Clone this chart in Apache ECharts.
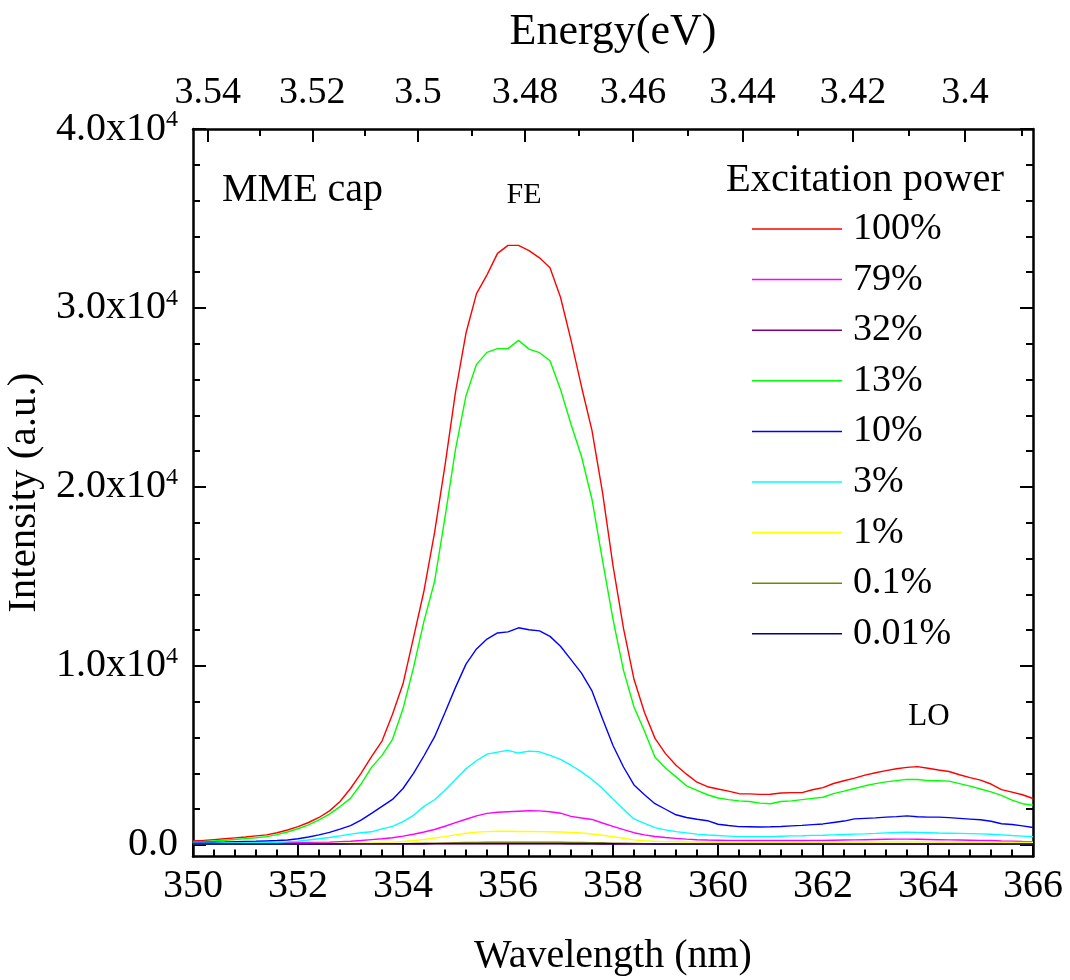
<!DOCTYPE html>
<html><head><meta charset="utf-8">
<script src="https://cdn.jsdelivr.net/npm/echarts@6/dist/echarts.min.js"></script>
<style>html,body{margin:0;padding:0;background:#fff}#c{width:1070px;height:980px}</style>
</head><body><div id="c"></div>
<script>
// Wavelength grid (nm)
const wavelength = [
350.0,350.2,350.4,350.6,350.8,351.0,351.2,351.4,351.6,351.8,
352.0,352.2,352.4,352.6,352.8,353.0,353.2,353.4,353.6,353.8,
354.0,354.2,354.4,354.6,354.8,355.0,355.2,355.4,355.6,355.8,
356.0,356.2,356.4,356.6,356.8,357.0,357.2,357.4,357.6,357.8,
358.0,358.2,358.4,358.6,358.8,359.0,359.2,359.4,359.6,359.8,
360.0,360.2,360.4,360.6,360.8,361.0,361.2,361.4,361.6,361.8,
362.0,362.2,362.4,362.6,362.8,363.0,363.2,363.4,363.6,363.8,
364.0,364.2,364.4,364.6,364.8,365.0,365.2,365.4,365.6,365.8,366.0];

const p100 = [
220,240,290,340,390,440,500,560,680,830,
1020,1250,1530,1900,2420,3150,4000,4930,5800,7300,
9000,11580,14200,17430,21200,25300,28600,30800,31850,33050,
33500,33500,33200,32800,32250,30600,28200,25600,23150,19700,
15600,12100,9250,7400,5950,5100,4450,3950,3500,3250,
3120,3000,2860,2850,2820,2830,2900,2920,2920,3080,
3200,3430,3580,3730,3900,4030,4150,4250,4330,4370,
4280,4180,4100,3920,3760,3620,3400,3090,2950,2800,2590];

const p79 = [
90,90,95,95,100,100,105,110,115,120,
125,130,130,150,180,200,240,290,340,400,
490,590,720,860,1040,1240,1430,1620,1760,1820,
1850,1880,1910,1900,1850,1770,1590,1500,1420,1220,
1030,850,680,560,470,410,360,320,290,270,
260,250,250,240,240,240,240,240,240,250,
250,260,270,280,290,300,310,320,320,310,
300,290,280,270,260,250,240,220,210,190,180];

const p32 = [
30,30,30,30,30,30,30,30,30,30,
30,30,30,35,35,35,40,40,40,45,
45,50,50,55,55,60,60,60,65,65,
65,65,65,65,60,60,60,55,55,50,
45,45,40,40,35,35,35,30,30,30,
30,30,30,30,30,30,30,30,30,30,
30,30,30,30,30,35,35,35,35,35,
35,35,35,30,30,30,30,30,30,30,30];

const p13 = [
170,190,220,260,300,350,400,460,570,720,
900,1120,1400,1720,2140,2600,3400,4330,5000,5900,
7600,9900,12500,14700,18300,22100,25100,26850,27520,27730,
27730,28190,27700,27500,27050,25450,23500,21700,19300,15900,
12600,9750,7700,6350,4900,4300,3800,3300,3050,2800,
2620,2530,2460,2420,2330,2300,2420,2460,2530,2600,
2660,2860,3000,3150,3300,3420,3520,3590,3660,3650,
3590,3580,3560,3420,3280,3120,2960,2770,2500,2300,2220];

const p10 = [
130,140,150,160,180,190,200,220,240,270,
340,440,560,700,880,1080,1380,1760,2150,2540,
3150,4000,4980,6030,7400,8800,10100,10950,11500,11840,
11900,12130,12020,11960,11650,11100,10350,9600,8600,7050,
5550,4350,3350,2800,2300,1990,1680,1530,1430,1350,
1150,1080,1020,1010,1000,1010,1030,1060,1090,1130,
1170,1250,1330,1450,1480,1510,1550,1580,1620,1570,
1550,1550,1520,1480,1440,1400,1320,1180,1140,1060,970];

const p3 = [
90,95,100,105,110,120,130,140,150,165,
200,270,340,410,500,600,680,730,890,1030,
1300,1650,2150,2520,3050,3650,4250,4700,5070,5180,
5280,5130,5240,5200,5000,4780,4450,4080,3650,3150,
2560,1990,1450,1200,960,840,740,670,600,550,
520,490,460,460,460,460,480,500,510,530,
540,560,580,600,615,640,670,690,710,700,
680,660,650,640,630,615,590,560,520,490,460];

const p1 = [
40,40,45,45,50,50,55,55,60,60,
65,70,75,80,85,90,100,110,130,150,
190,240,300,380,460,560,650,710,740,760,
760,750,745,740,730,715,700,660,610,540,
460,370,280,230,200,180,170,160,160,150,
150,150,150,150,150,150,150,150,150,150,
150,150,150,150,150,150,160,160,160,160,
160,150,150,150,150,150,150,140,140,140,140];

const p01 = [
40,40,40,40,40,40,40,40,40,40,
40,40,45,45,45,50,50,55,60,65,
70,80,90,100,110,120,130,140,145,150,
150,150,150,150,145,145,140,135,125,115,
100,90,80,70,60,55,50,50,50,50,
50,50,50,50,50,50,50,50,50,50,
50,50,50,55,55,55,55,55,55,55,
55,55,55,50,50,50,50,50,50,50,50];

const p001 = [
50,50,50,50,50,50,50,50,50,50,
50,50,50,50,50,55,55,55,60,60,
60,65,65,70,70,70,70,70,70,70,
70,70,70,70,70,70,65,65,65,60,
60,55,55,55,50,50,50,50,50,50,
50,50,50,50,50,50,50,50,50,50,
50,50,50,50,50,50,50,50,50,50,
50,50,50,50,50,50,50,50,50,50,50];

const seriesNames = ['100%','79%','32%','13%','10%','3%','1%','0.1%','0.01%'];
const seriesValues = [p100,p79,p32,p13,p10,p3,p1,p01,p001];
const seriesColors = ['#ff0000','#ff00ff','#800080','#00ff00','#0000ff','#00ffff','#ffff00','#808000','#000080'];

const yMajorTicks = [0,10000,20000,30000,40000];
const yMinorTicks = [2000,4000,6000,8000,12000,14000,16000,18000,22000,24000,26000,28000,32000,34000,36000,38000];
const energyMajor = [3.54,3.52,3.50,3.48,3.46,3.44,3.42,3.40];
const energyMinor = [3.53,3.51,3.49,3.47,3.45,3.43,3.41,3.39];
const HC = 1240; // eV*nm

const FONT = '"Liberation Serif", "Times New Roman", serif';
const BLACK = '#000';
const Y_MIN = -650, Y_MAX = 40000, X_MIN = 350, X_MAX = 366;

const toWl = e => HC / e;

function yAxisBase(pos) {
  return {
    type: 'value', position: pos, min: Y_MIN, max: Y_MAX,
    splitLine: {show: false},
    axisLine: {show: false, onZero: false, lineStyle: {color: BLACK, width: 2.5}},
    axisTick: {show: true, inside: true, length: 13, lineStyle: {color: BLACK, width: 2}},
    axisLabel: {show: false}
  };
}

const chart = echarts.init(document.getElementById('c'), null, {renderer: 'canvas'});

const option = {
  backgroundColor: '#fff',
  animation: false,
  grid: {left: 193, right: 37, top: 129, bottom: 123.5, containLabel: false, outerBoundsMode: 'none'},
  legend: {
    orient: 'vertical', left: 752, top: 209, padding: 0,
    itemWidth: 90, itemHeight: 1.5, itemGap: 10.6, icon: 'rect',
    selectedMode: false,
    textStyle: {fontSize: 38, fontFamily: FONT, color: BLACK, lineHeight: 40, padding: [0, 0, 0, 6]},
    data: seriesNames
  },
  xAxis: [
    {
      type: 'value', position: 'bottom', min: X_MIN, max: X_MAX, interval: 2,
      splitLine: {show: false},
      axisLine: {show: true, onZero: false, lineStyle: {color: BLACK, width: 2.5}},
      axisTick: {show: true, inside: true, length: 13, lineStyle: {color: BLACK, width: 2}},
      minorTick: {show: true, splitNumber: 5, length: 7, lineStyle: {color: BLACK, width: 2}},
      axisLabel: {fontSize: 40, fontFamily: FONT, color: BLACK, margin: 10},
      name: 'Wavelength (nm)', nameLocation: 'middle', nameGap: 80,
      nameTextStyle: {fontSize: 40, fontFamily: FONT, color: BLACK}
    },
    {
      type: 'value', position: 'top', min: X_MIN, max: X_MAX,
      splitLine: {show: false},
      axisLine: {show: true, onZero: false, lineStyle: {color: BLACK, width: 2.5}},
      axisTick: {show: true, inside: true, length: 13, lineStyle: {color: BLACK, width: 2},
                 customValues: energyMajor.map(toWl)},
      axisLabel: {show: true, fontSize: 38, fontFamily: FONT, color: BLACK, margin: 17,
                  customValues: energyMajor.map(toWl),
                  formatter: v => String(parseFloat((HC / v).toFixed(2)))},
      name: 'Energy(eV)', nameLocation: 'middle', nameGap: 75,
      nameTextStyle: {fontSize: 44, fontFamily: FONT, color: BLACK}
    },
    {
      type: 'value', position: 'top', min: X_MIN, max: X_MAX,
      splitLine: {show: false},
      axisLine: {show: false, onZero: false},
      axisTick: {show: true, inside: true, length: 7, lineStyle: {color: BLACK, width: 2},
                 customValues: energyMinor.map(toWl)},
      axisLabel: {show: false}
    }
  ],
  yAxis: [
    Object.assign(yAxisBase('left'), {
      axisLine: {show: true, onZero: false, lineStyle: {color: BLACK, width: 2.5}},
      axisTick: {show: true, inside: true, length: 13, lineStyle: {color: BLACK, width: 2}, customValues: yMajorTicks},
      axisLabel: {
        show: true, margin: 15, customValues: yMajorTicks,
        formatter: v => v === 0 ? '{n|0.0}' : '{n|' + (v / 10000).toFixed(1) + 'x10}{s|4}',
        rich: {
          n: {fontSize: 40, fontFamily: FONT, color: BLACK},
          s: {fontSize: 24, fontFamily: FONT, color: BLACK, padding: [0, 0, 18, 0]}
        }
      },
      name: 'Intensity (a.u.)', nameLocation: 'middle', nameGap: 146,
      nameTextStyle: {fontSize: 41, fontFamily: FONT, color: BLACK}
    }),
    Object.assign(yAxisBase('left'), {
      axisTick: {show: true, inside: true, length: 7, lineStyle: {color: BLACK, width: 2}, customValues: yMinorTicks}
    }),
    Object.assign(yAxisBase('right'), {
      axisLine: {show: true, onZero: false, lineStyle: {color: BLACK, width: 2.5}},
      axisTick: {show: true, inside: true, length: 13, lineStyle: {color: BLACK, width: 2}, customValues: yMajorTicks}
    }),
    Object.assign(yAxisBase('right'), {
      axisTick: {show: true, inside: true, length: 7, lineStyle: {color: BLACK, width: 2}, customValues: yMinorTicks}
    })
  ],
  graphic: [
    {type: 'text', x: 222, y: 190, style: {text: 'MME cap', fontSize: 40, fontFamily: FONT, fill: BLACK, align: 'left', verticalAlign: 'middle'}},
    {type: 'text', x: 524, y: 195, style: {text: 'FE', fontSize: 30, fontFamily: FONT, fill: BLACK, align: 'center', verticalAlign: 'middle'}},
    {type: 'text', x: 929, y: 717, style: {text: 'LO', fontSize: 31, fontFamily: FONT, fill: BLACK, align: 'center', verticalAlign: 'middle'}},
    {type: 'text', x: 865, y: 180, style: {text: 'Excitation power', fontSize: 40.5, fontFamily: FONT, fill: BLACK, align: 'center', verticalAlign: 'middle'}}
  ],
  series: seriesNames.map((name, i) => ({
    name: name, type: 'line', xAxisIndex: 0, yAxisIndex: 0,
    data: wavelength.map((w, j) => [w, seriesValues[i][j]]),
    showSymbol: false, symbol: 'none', smooth: false,
    lineStyle: {color: seriesColors[i], width: 1.4},
    itemStyle: {color: seriesColors[i]},
    emphasis: {disabled: true}
  }))
};
chart.setOption(option);
</script>
</body></html>
